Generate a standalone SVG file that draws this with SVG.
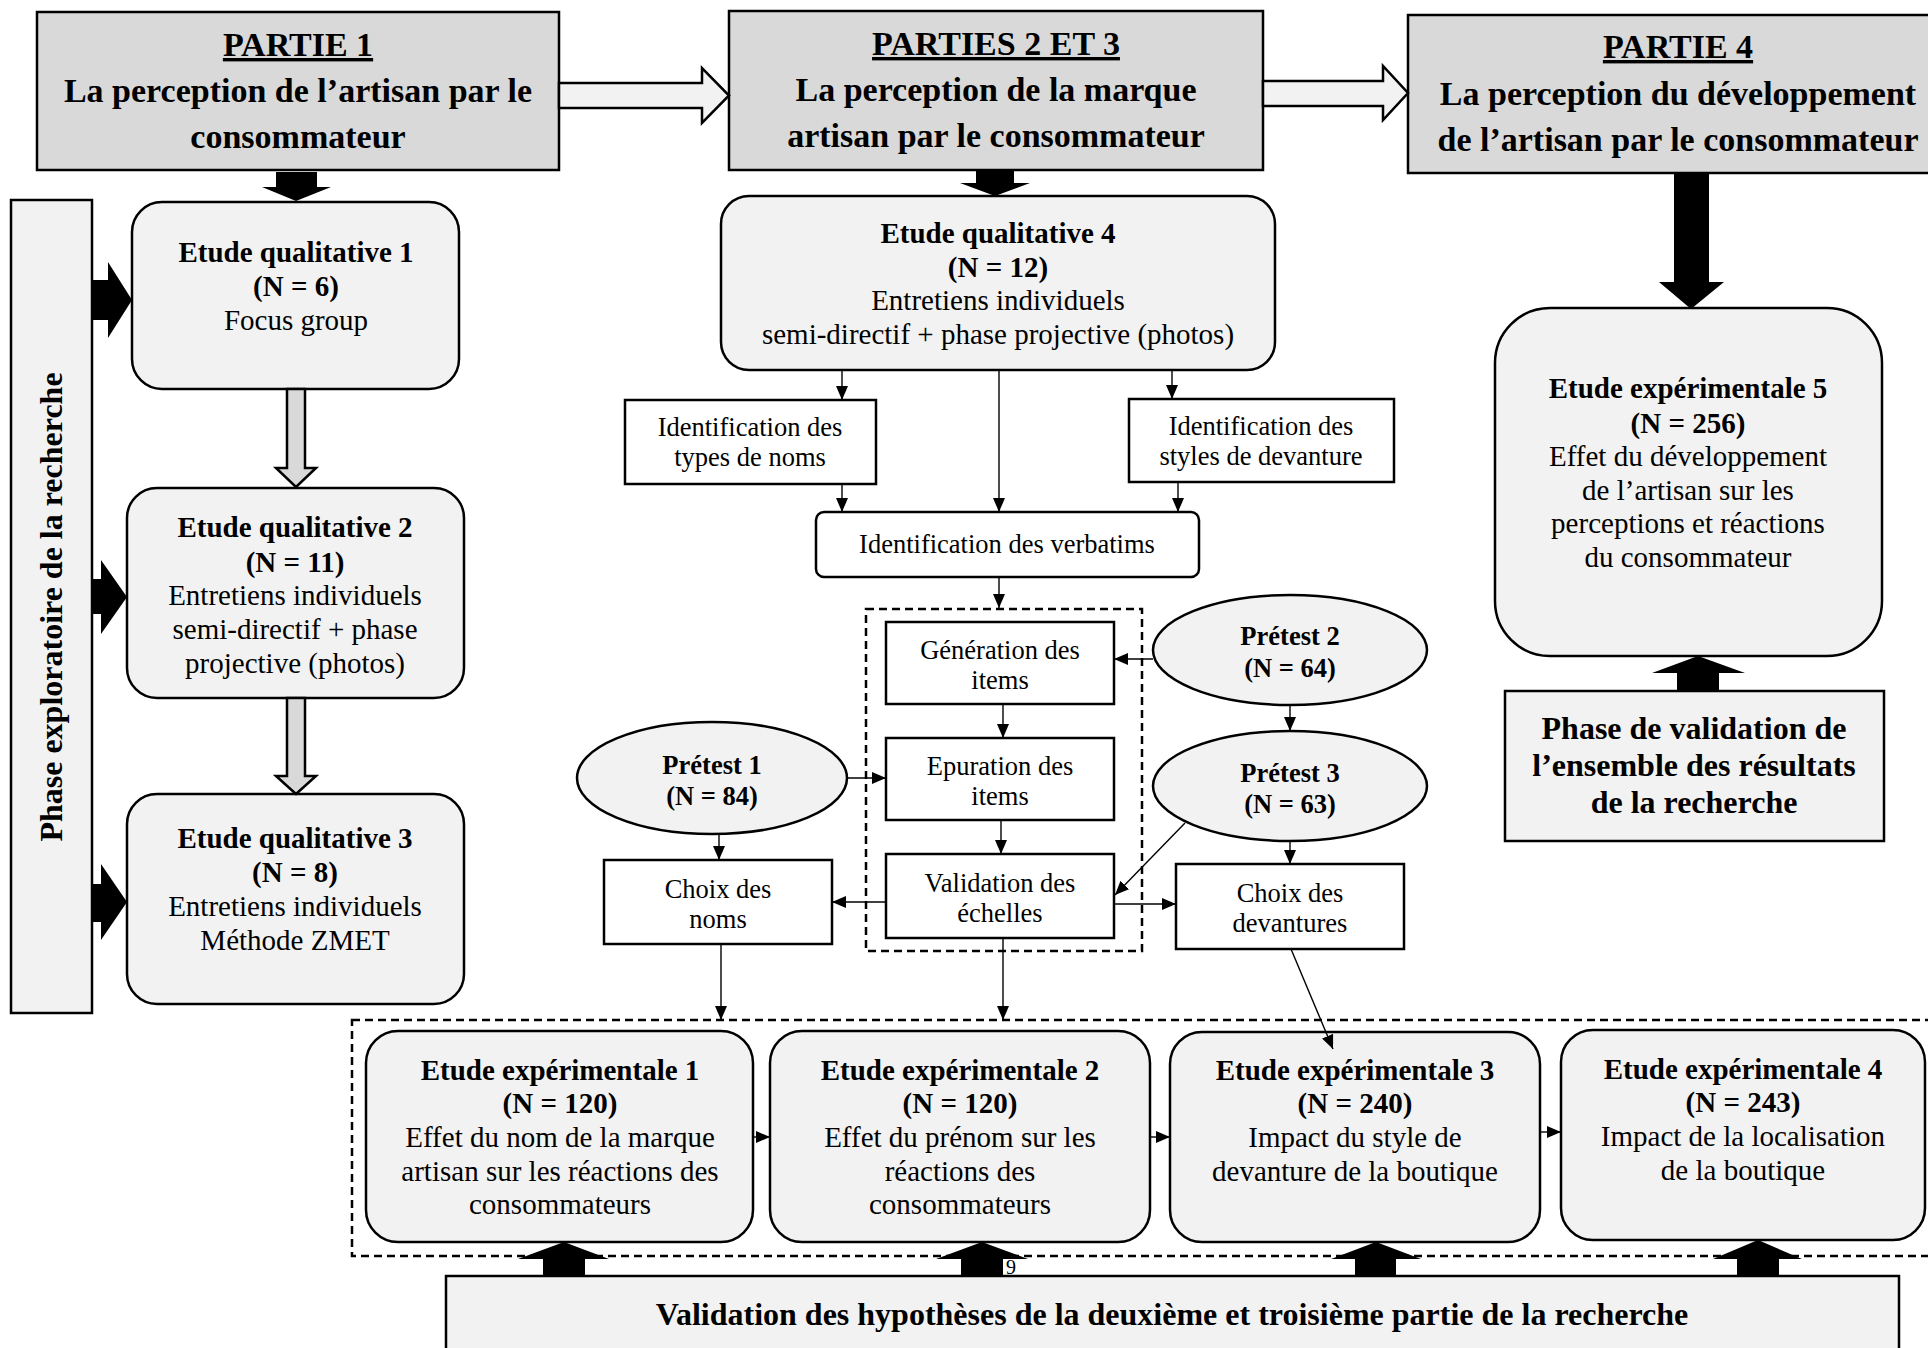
<svg xmlns="http://www.w3.org/2000/svg" width="1928" height="1348" viewBox="0 0 1928 1348">
<style>
text{font-family:"Liberation Serif","Times New Roman",serif;fill:#000;text-anchor:middle}
.b{font-weight:bold}
.t34{font-size:34px;font-weight:bold}
.t29{font-size:29px}
.t26{font-size:26.5px}
.t32{font-size:32px;font-weight:bold}
.u{text-decoration:underline}
.dark{fill:#d9d9d9;stroke:#000;stroke-width:2.5}
.light{fill:#f2f2f2;stroke:#000;stroke-width:2.5}
.white{fill:#fff;stroke:#000;stroke-width:2.5}
.dash{fill:none;stroke:#000;stroke-width:2.5;stroke-dasharray:8 5}
.blk{fill:#000;stroke:none}
.hol{fill:#f2f2f2;stroke:#000;stroke-width:2.5;stroke-linejoin:miter}
.gry{fill:#d9d9d9;stroke:#000;stroke-width:2.5}
.ln{fill:none;stroke:#000;stroke-width:1.4}
.ln.a{marker-end:url(#ah)}
</style>
<defs>
<marker id="ah" viewBox="0 0 14 12" refX="14" refY="6" markerWidth="14" markerHeight="12" markerUnits="userSpaceOnUse" orient="auto"><path d="M0,0 L14,6 L0,12 z" fill="#000"/></marker>
</defs>
<rect width="1928" height="1348" fill="#fff"/>

<!-- dashed grouping boxes -->
<g id="groups">
<rect class="dash" x="866" y="609" width="276" height="342"/>
<rect class="dash" x="352" y="1020" width="1600" height="236"/>
</g>

<g id="partie1">
<rect class="dark" x="37" y="12" width="522" height="158"/>
<text class="t34 u" x="298" y="56">PARTIE 1</text>
<text class="t34" x="298" y="102">La perception de l’artisan par le</text>
<text class="t34" x="298" y="148">consommateur</text>
</g>
<g id="partie23">
<rect class="dark" x="729" y="11" width="534" height="159"/>
<text class="t34 u" x="996" y="55">PARTIES 2 ET 3</text>
<text class="t34" x="996" y="101">La perception de la marque</text>
<text class="t34" x="996" y="147">artisan par le consommateur</text>
</g>
<g id="partie4">
<rect class="dark" x="1408" y="15" width="540" height="158"/>
<text class="t34 u" x="1678" y="58">PARTIE 4</text>
<text class="t34" x="1678" y="105">La perception du développement</text>
<text class="t34" x="1678" y="151">de l’artisan par le consommateur</text>
</g>

<g id="phase-exploratoire">
<rect class="light" x="11" y="200" width="81" height="813"/>
<text class="b" style="font-size:32px" transform="translate(62,607) rotate(-90)">Phase exploratoire de la recherche</text>
</g>

<g id="qual1">
<rect class="light" x="132" y="202" width="327" height="187" rx="30"/>
<text class="t29 b" x="296" y="262">Etude qualitative 1</text>
<text class="t29 b" x="296" y="296">(N = 6)</text>
<text class="t29" x="296" y="330">Focus group</text>
</g>
<g id="qual2">
<rect class="light" x="127" y="488" width="337" height="210" rx="30"/>
<text class="t29 b" x="295" y="537">Etude qualitative 2</text>
<text class="t29 b" x="295" y="572">(N = 11)</text>
<text class="t29" x="295" y="605">Entretiens individuels</text>
<text class="t29" x="295" y="639">semi-directif + phase</text>
<text class="t29" x="295" y="673">projective (photos)</text>
</g>
<g id="qual3">
<rect class="light" x="127" y="794" width="337" height="210" rx="30"/>
<text class="t29 b" x="295" y="848">Etude qualitative 3</text>
<text class="t29 b" x="295" y="882">(N = 8)</text>
<text class="t29" x="295" y="916">Entretiens individuels</text>
<text class="t29" x="295" y="950">Méthode ZMET</text>
</g>

<g id="qual4">
<rect class="light" x="721" y="196" width="554" height="174" rx="28"/>
<text class="t29 b" x="998" y="243">Etude qualitative 4</text>
<text class="t29 b" x="998" y="277">(N = 12)</text>
<text class="t29" x="998" y="310">Entretiens individuels</text>
<text class="t29" x="998" y="344">semi-directif + phase projective (photos)</text>
</g>

<g id="types-noms">
<rect class="white" x="625" y="400" width="251" height="84"/>
<text class="t26" x="750" y="436">Identification des</text>
<text class="t26" x="750" y="466">types de noms</text>
</g>
<g id="styles-devanture">
<rect class="white" x="1129" y="399" width="265" height="83"/>
<text class="t26" x="1261" y="435">Identification des</text>
<text class="t26" x="1261" y="465">styles de devanture</text>
</g>
<g id="verbatims">
<rect class="white" x="816" y="512" width="383" height="65" rx="8"/>
<text class="t26" x="1007" y="553">Identification des verbatims</text>
</g>
<g id="generation">
<rect class="white" x="886" y="622" width="228" height="82"/>
<text class="t26" x="1000" y="659">Génération des</text>
<text class="t26" x="1000" y="689">items</text>
</g>
<g id="epuration">
<rect class="white" x="886" y="738" width="228" height="82"/>
<text class="t26" x="1000" y="775">Epuration des</text>
<text class="t26" x="1000" y="805">items</text>
</g>
<g id="validation-echelles">
<rect class="white" x="886" y="854" width="228" height="84"/>
<text class="t26" x="1000" y="892">Validation des</text>
<text class="t26" x="1000" y="922">échelles</text>
</g>
<g id="choix-noms">
<rect class="white" x="604" y="860" width="228" height="84"/>
<text class="t26" x="718" y="898">Choix des</text>
<text class="t26" x="718" y="928">noms</text>
</g>
<g id="choix-devantures">
<rect class="white" x="1176" y="864" width="228" height="85"/>
<text class="t26" x="1290" y="902">Choix des</text>
<text class="t26" x="1290" y="932">devantures</text>
</g>
<g id="pretest1">
<ellipse class="light" cx="712" cy="778" rx="135" ry="56"/>
<text class="t26 b" x="712" y="774">Prétest 1</text>
<text class="t26 b" x="712" y="805">(N = 84)</text>
</g>
<g id="pretest2">
<ellipse class="light" cx="1290" cy="650" rx="137" ry="55"/>
<text class="t26 b" x="1290" y="645">Prétest 2</text>
<text class="t26 b" x="1290" y="677">(N = 64)</text>
</g>
<g id="pretest3">
<ellipse class="light" cx="1290" cy="786" rx="137" ry="55"/>
<text class="t26 b" x="1290" y="782">Prétest 3</text>
<text class="t26 b" x="1290" y="813">(N = 63)</text>
</g>

<g id="exp1">
<rect class="light" x="366" y="1031" width="387" height="211" rx="32"/>
<text class="t29 b" x="560" y="1080">Etude expérimentale 1</text>
<text class="t29 b" x="560" y="1113">(N = 120)</text>
<text class="t29" x="560" y="1147">Effet du nom de la marque</text>
<text class="t29" x="560" y="1181">artisan sur les réactions des</text>
<text class="t29" x="560" y="1214">consommateurs</text>
</g>
<g id="exp2">
<rect class="light" x="770" y="1031" width="380" height="211" rx="32"/>
<text class="t29 b" x="960" y="1080">Etude expérimentale 2</text>
<text class="t29 b" x="960" y="1113">(N = 120)</text>
<text class="t29" x="960" y="1147">Effet du prénom sur les</text>
<text class="t29" x="960" y="1181">réactions des</text>
<text class="t29" x="960" y="1214">consommateurs</text>
</g>
<g id="exp3">
<rect class="light" x="1170" y="1032" width="370" height="210" rx="32"/>
<text class="t29 b" x="1355" y="1080">Etude expérimentale 3</text>
<text class="t29 b" x="1355" y="1113">(N = 240)</text>
<text class="t29" x="1355" y="1147">Impact du style de</text>
<text class="t29" x="1355" y="1181">devanture de la boutique</text>
</g>
<g id="exp4">
<rect class="light" x="1561" y="1030" width="364" height="210" rx="32"/>
<text class="t29 b" x="1743" y="1079">Etude expérimentale 4</text>
<text class="t29 b" x="1743" y="1112">(N = 243)</text>
<text class="t29" x="1743" y="1146">Impact de la localisation</text>
<text class="t29" x="1743" y="1180">de la boutique</text>
</g>

<g id="exp5">
<rect class="light" x="1495" y="308" width="387" height="348" rx="55"/>
<text class="t29 b" x="1688" y="398">Etude expérimentale 5</text>
<text class="t29 b" x="1688" y="433">(N = 256)</text>
<text class="t29" x="1688" y="466">Effet du développement</text>
<text class="t29" x="1688" y="500">de l’artisan sur les</text>
<text class="t29" x="1688" y="533">perceptions et réactions</text>
<text class="t29" x="1688" y="567">du consommateur</text>
</g>
<g id="phase-validation">
<rect class="light" x="1505" y="691" width="379" height="150"/>
<text class="t32" x="1694" y="739">Phase de validation de</text>
<text class="t32" x="1694" y="776">l’ensemble des résultats</text>
<text class="t32" x="1694" y="813">de la recherche</text>
</g>
<g id="validation-hypotheses">
<rect class="light" x="446" y="1276" width="1453" height="90"/>
<text class="t32" x="1172" y="1325">Validation des hypothèses de la deuxième et troisième partie de la recherche</text>
</g>
<text x="1006" y="1274" style="font-size:20px;text-anchor:start">9</text>

<g id="connectors">
<!-- hollow arrows between parts -->
<polygon class="hol" points="559,83 702,83 702,68 729,95.5 702,123 702,108 559,108"/>
<polygon class="hol" points="1263,81 1383,81 1383,66 1408,93 1383,120 1383,106 1263,106"/>
<!-- black block arrows -->
<polygon class="blk" points="276,172 317,172 317,187 331,187 296,201 262,187 276,187"/>
<polygon class="blk" points="976,170 1014,170 1014,183 1030,183 995,196 960,183 976,183"/>
<polygon class="blk" points="1674,173 1709,173 1709,282 1724,282 1691,309 1659,282 1674,282"/>
<polygon class="blk" points="91,280 108,280 108,262 132,300 108,338 108,320 91,320"/>
<polygon class="blk" points="91,579 101,579 101,560 127,597 101,634 101,614 91,614"/>
<polygon class="blk" points="91,884 101,884 101,864 127,902 101,940 101,922 91,922"/>
<!-- gray arrows between qualitative studies -->
<polygon class="gry" points="287,389 305,389 305,468 316,468 296,487 276,468 287,468"/>
<polygon class="gry" points="287,698 305,698 305,776 316,776 296,794 276,776 287,776"/>
<!-- up arrows -->
<polygon class="blk" points="543,1276 585,1276 585,1259 609,1259 564,1242 518,1259 543,1259"/>
<polygon class="blk" points="961,1276 1003,1276 1003,1259 1028,1259 982,1242 936,1259 961,1259"/>
<polygon class="blk" points="1355,1276 1396,1276 1396,1259 1421,1259 1376,1242 1331,1259 1355,1259"/>
<polygon class="blk" points="1737,1276 1779,1276 1779,1259 1802,1259 1758,1240 1713,1259 1737,1259"/>
<polygon class="blk" points="1677,691 1719,691 1719,673 1745,673 1698,656 1652,673 1677,673"/>
<!-- thin connectors -->
<line class="ln a" x1="842" y1="370" x2="842" y2="400"/>
<line class="ln a" x1="999" y1="370" x2="999" y2="512"/>
<line class="ln a" x1="1172" y1="370" x2="1172" y2="399"/>
<line class="ln a" x1="842" y1="484" x2="842" y2="512"/>
<line class="ln a" x1="1178" y1="482" x2="1178" y2="512"/>
<line class="ln a" x1="999" y1="577" x2="999" y2="608"/>
<line class="ln a" x1="1003" y1="704" x2="1003" y2="738"/>
<line class="ln a" x1="1001" y1="820" x2="1001" y2="854"/>
<line class="ln a" x1="1153" y1="659" x2="1114" y2="659"/>
<line class="ln a" x1="1290" y1="705" x2="1290" y2="731"/>
<line class="ln a" x1="1185" y1="823" x2="1115" y2="895"/>
<line class="ln a" x1="1290" y1="841" x2="1290" y2="864"/>
<line class="ln a" x1="847" y1="778" x2="886" y2="778"/>
<line class="ln a" x1="719" y1="834" x2="719" y2="860"/>
<line class="ln a" x1="886" y1="902" x2="832" y2="902"/>
<line class="ln a" x1="1114" y1="904" x2="1176" y2="904"/>
<line class="ln a" x1="721" y1="944" x2="721" y2="1020"/>
<line class="ln a" x1="1003" y1="938" x2="1003" y2="1020"/>
<line class="ln a" x1="1291" y1="949" x2="1333" y2="1049"/>
<line class="ln a" x1="753" y1="1137" x2="770" y2="1137"/>
<line class="ln a" x1="1150" y1="1137" x2="1170" y2="1137"/>
<line class="ln a" x1="1540" y1="1132" x2="1561" y2="1132"/>
</g>
</svg>
